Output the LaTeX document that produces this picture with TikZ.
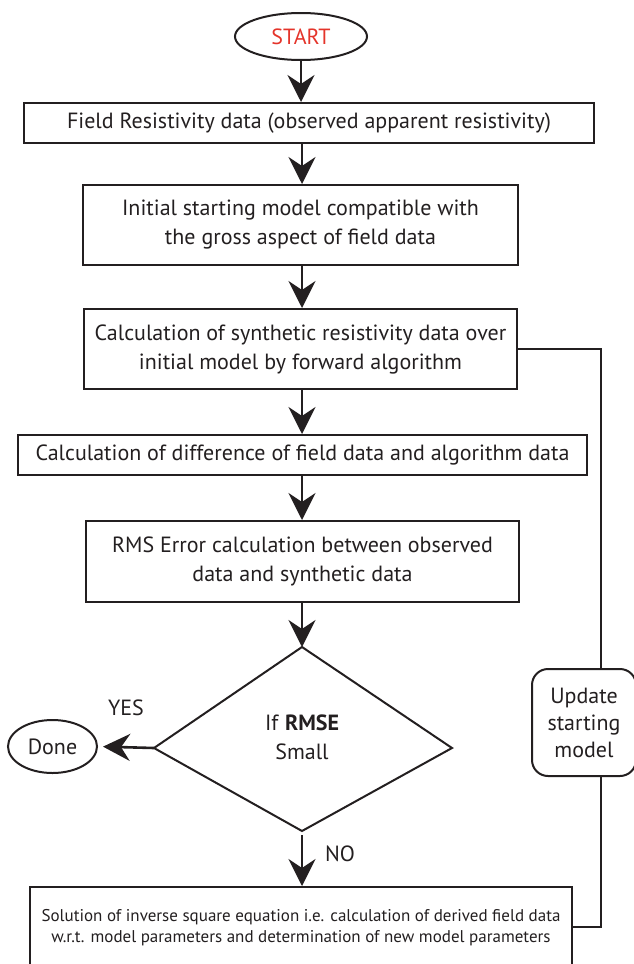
\documentclass[tikz,border=0pt]{standalone}
\usepackage{fontspec}
\setmainfont{PT Sans}
\usetikzlibrary{shapes.geometric,arrows.meta}
\definecolor{startred}{RGB}{228,52,42}
\definecolor{ink}{RGB}{35,31,32}
\begin{document}
\begin{tikzpicture}[x=1pt,y=-1pt,
  box/.style={draw=ink,line width=2pt,align=center,inner sep=0pt,text=ink,
    font=\fontsize{22}{29}\selectfont},
  oval/.style={draw=ink,line width=2pt,ellipse,inner sep=0pt,
    font=\fontsize{22}{29}\selectfont},
  arr/.style={draw=ink,line width=2.6pt,-{Stealth[length=27pt,width=27pt,inset=9pt]}},
  link/.style={draw=ink,line width=2pt},
  lbl/.style={text=ink,font=\fontsize{22}{29}\selectfont,inner sep=0pt}]
\useasboundingbox (0,0) rectangle (634,964);
\clip (0,0) rectangle (634,964);

\node[oval,minimum width=132pt,minimum height=47pt,text=startred] (start) at (301,36.5) {START};
\node[box,minimum width=570pt,minimum height=40pt] (f1) at (309,123)
  {Field Resistivity data (observed apparent resistivity)};
\node[box,minimum width=435pt,minimum height=80pt] (b2) at (300.5,225)
  {Initial starting model compatible with\\the gross aspect of field data};
\node[box,minimum width=433pt,minimum height=80pt] (b3) at (300.5,349)
  {Calculation of synthetic resistivity data over\\initial model by forward algorithm};
\node[box,minimum width=569pt,minimum height=40pt] (b4) at (302.5,455)
  {Calculation of difference of field data and algorithm data};
\node[box,minimum width=433pt,minimum height=81pt] (b5) at (302.5,561.5)
  {RMS Error calculation between observed\\data and synthetic data};

% decision diamond
\coordinate (dT) at (302,647);
\coordinate (dR) at (452,748);
\coordinate (dB) at (302,831);
\coordinate (dL) at (154,748);
\draw[link,line join=miter] (dT) -- (dR) -- (dB) -- (dL) -- cycle;
\node[lbl,align=center] (dtext) at (302,737) {If \textbf{RMSE}\\Small};

\node[oval,minimum width=89pt,minimum height=53pt,text=ink] (done) at (52.5,746.5) {Done};
\node[lbl] (yes) at (126,708) {YES};
\node[lbl] (no) at (340,854) {NO};

\node[box,minimum width=542pt,minimum height=81pt,
  font=\fontsize{17}{21}\selectfont] (bot) at (301,927.5)
  {Solution of inverse square equation i.e. calculation of derived field data\\
   w.r.t. model parameters and determination of new model parameters};

\node[box,rounded corners=16pt,minimum width=104pt,minimum height=107pt,
  font=\fontsize{22}{27}\selectfont] (upd) at (584,722.5)
  {Update\\starting\\model};

\coordinate (loopx) at (601,0);
\coordinate (axis) at (302,0);

% main flow
\draw[arr] (start.south) -- (start.south |- f1.north);
\draw[arr] (axis |- f1.south) -- (axis |- b2.north);
\draw[arr] (axis |- b2.south) -- (axis |- b3.north);
\draw[arr] (axis |- b3.south) -- (axis |- b4.north);
\draw[arr] (axis |- b4.south) -- (axis |- b5.north);
\draw[arr] (axis |- b5.south) -- (dT);
\draw[arr,shorten <=4pt] (dB) -- (axis |- bot.north);
\draw[arr,shorten >=5pt] (dL) -- (done.east);

% feedback loop
\draw[link] (bot.east |- 0,927) -| (loopx |- upd.south);
\draw[link] (loopx |- upd.north) |- (b3.east);
\end{tikzpicture}
\end{document}
